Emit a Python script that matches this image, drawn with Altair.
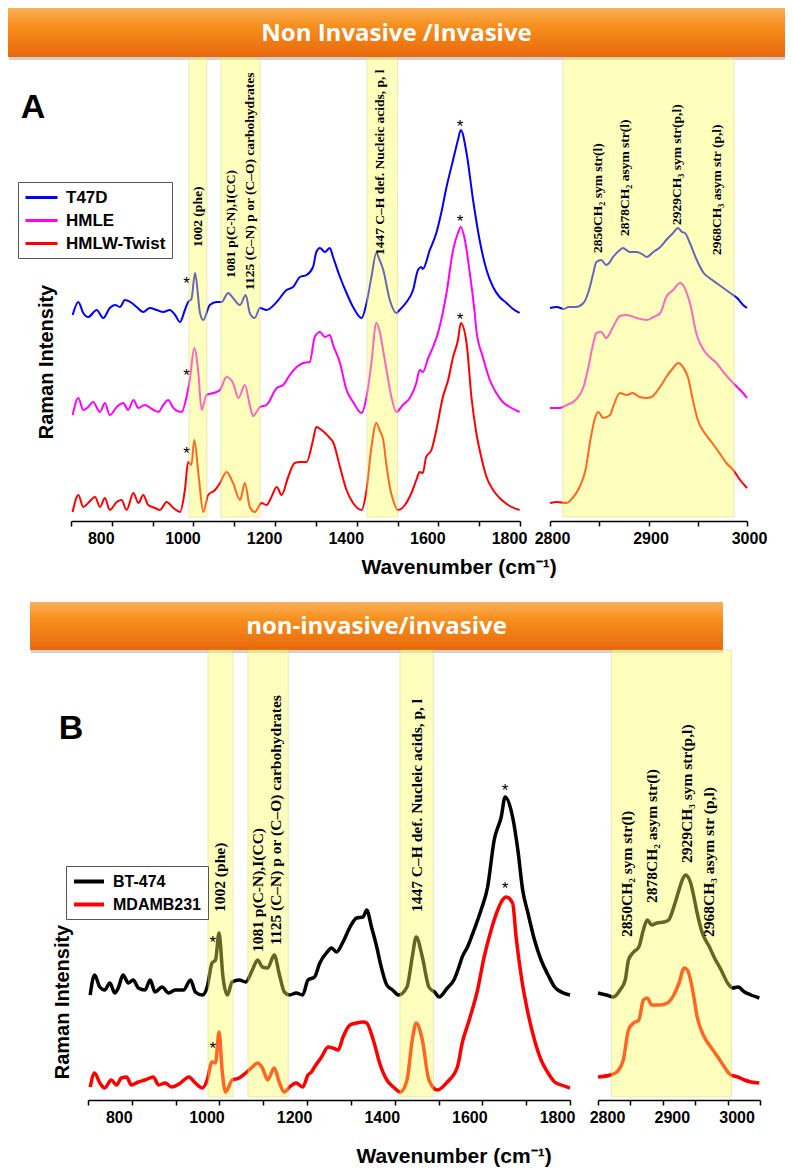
import altair as alt
import pandas as pd

# ---------------- Panel A : spectra (wavenumber cm-1, intensity a.u.) ----------------
A_SERIES = ["T47D", "HMLE", "HMLW-Twist"]
A_COLORS = ["#0000FF", "#FF00FF", "#FF0000"]

A_T47D_WN = [704, 718, 730, 742, 763, 779, 795, 808, 820, 832, 849, 861, 877, 893, 910, 926, 942, 955, 967, 979,
             987, 995, 1004, 1016, 1024, 1040, 1057, 1069, 1085, 1097, 1114, 1128, 1138, 1150, 1163, 1179, 1204,
             1228, 1244, 1261, 1277, 1293, 1301, 1310, 1322, 1334, 1342, 1359, 1375, 1391, 1412, 1424, 1436,
             1448, 1456, 1465, 1481, 1497, 1505, 1522, 1538, 1550, 1558, 1562, 1579, 1595, 1607, 1620, 1636,
             1648, 1655, 1669, 1685, 1701, 1718, 1734, 1750, 1767, 1783, 1799]
A_T47D_INT = [206, 219, 208, 204, 211, 203, 213, 216, 214, 221, 218, 214, 209, 213, 211, 209, 211, 206, 199, 211,
              219, 222, 248, 208, 201, 216, 219, 219, 228, 223, 216, 226, 208, 203, 213, 211, 219,
              231, 234, 244, 246, 254, 269, 273, 269, 273, 264, 244, 228, 214, 203, 218, 244,
              268, 261, 251, 221, 208, 211, 219, 231, 251, 254, 252, 271, 288, 308, 334, 361,
              381, 391, 368, 321, 281, 251, 234, 224, 218, 212, 208]

A_HMLE_WN = [704, 718, 730, 742, 754, 771, 783, 795, 812, 828, 840, 853, 865, 881, 902, 914, 926, 938, 951, 971,
             983, 991, 1002, 1012, 1020, 1032, 1049, 1065, 1081, 1097, 1110, 1126, 1138, 1146, 1163, 1179, 1204,
             1220, 1236, 1253, 1269, 1285, 1297, 1310, 1322, 1334, 1342, 1359, 1375, 1391, 1412, 1424, 1436,
             1448, 1456, 1465, 1473, 1485, 1497, 1513, 1530, 1546, 1554, 1562, 1575, 1587, 1599, 1620, 1636,
             1648, 1655, 1665, 1677, 1689, 1693, 1709, 1726, 1742, 1758, 1775, 1799]
A_HMLE_INT = [106, 123, 111, 114, 119, 109, 118, 106, 114, 118, 111, 121, 113, 116, 111, 109, 116, 121, 113, 109,
              124, 141, 173, 148, 111, 126, 128, 131, 144, 138, 123, 136, 116, 105, 114, 116, 133,
              136, 146, 154, 158, 159, 184, 189, 184, 186, 176, 158, 131, 119, 108, 124, 158,
              198, 190, 170, 151, 124, 109, 116, 123, 138, 151, 149, 163, 174, 188, 228, 271,
              288, 294, 281, 248, 208, 191, 164, 141, 128, 119, 114, 109]

A_TWIST_WN = [704, 718, 730, 742, 759, 771, 783, 795, 812, 824, 836, 853, 865, 877, 889, 906, 918, 934, 951, 967,
              979, 987, 995, 1002, 1013, 1024, 1036, 1053, 1065, 1081, 1097, 1114, 1126, 1138, 1150, 1167, 1179,
              1191, 1204, 1216, 1232, 1248, 1261, 1277, 1293, 1301, 1314, 1334, 1342, 1359, 1375, 1391, 1412,
              1424, 1436, 1448, 1456, 1465, 1473, 1481, 1489, 1501, 1518, 1534, 1546, 1554, 1562, 1570, 1583,
              1595, 1611, 1624, 1636, 1648, 1655, 1669, 1681, 1693, 1705, 1718, 1734, 1750, 1771, 1799]
A_TWIST_INT = [9, 26, 14, 18, 24, 14, 23, 11, 19, 21, 11, 28, 18, 26, 16, 13, 11, 19, 13, 9,
               31, 59, 56, 81, 44, 9, 26, 31, 38, 49, 38, 21, 38, 14, 9, 18, 16,
               24, 34, 26, 44, 58, 59, 59, 81, 94, 91, 83, 79, 54, 31, 18, 11,
               31, 74, 98, 91, 81, 55, 34, 21, 11, 16, 28, 41, 49, 48, 64, 71,
               91, 124, 141, 164, 181, 198, 178, 124, 88, 64, 44, 31, 23, 16, 11]

A_T47D_HI_WN = [2800, 2807, 2814, 2819, 2826, 2834, 2839, 2844, 2847, 2852, 2857, 2860, 2864, 2871, 2874, 2881,
                2888, 2895, 2898, 2905, 2912, 2918, 2925, 2930, 2934, 2937, 2942, 2949, 2956, 2962, 2969, 2976,
                2983, 2990, 2996, 3000]
A_T47D_HI_INT = [213, 214, 212, 214, 214, 218, 229, 248, 259, 261, 256, 258, 264, 271, 273, 269,
                 269, 266, 264, 269, 274, 281, 288, 293, 289, 288, 278, 261, 248, 243, 238, 233,
                 228, 223, 216, 213]

A_HMLE_HI_WN = [2800, 2810, 2817, 2826, 2834, 2839, 2844, 2847, 2852, 2857, 2864, 2871, 2878, 2888, 2898, 2905,
                2912, 2918, 2925, 2932, 2935, 2942, 2949, 2956, 2962, 2969, 2976, 2983, 2990, 2996, 3000]
A_HMLE_HI_INT = [113, 113, 116, 121, 134, 154, 178, 188, 189, 183, 194, 205, 206, 203, 201, 204,
                 208, 224, 231, 238, 236, 218, 186, 171, 164, 158, 149, 141, 134, 128, 123]

A_TWIST_HI_WN = [2800, 2807, 2817, 2823, 2830, 2836, 2841, 2846, 2849, 2854, 2861, 2864, 2871, 2878, 2884, 2891,
                 2898, 2903, 2908, 2913, 2918, 2925, 2930, 2935, 2940, 2945, 2950, 2957, 2964, 2972, 2979, 2986,
                 2993, 3000]
A_TWIST_HI_INT = [18, 19, 18, 23, 34, 51, 81, 104, 109, 103, 106, 114, 128, 126, 128, 124,
                  123, 124, 129, 136, 144, 153, 158, 154, 144, 121, 101, 88, 79, 68, 58, 51,
                  41, 33]

# ---------------- Panel B ----------------
B_SERIES = ["BT-474", "MDAMB231"]
B_COLORS = ["#000000", "#FF0000"]

B_BT_WN = [705, 715, 727, 738, 750, 761, 769, 780, 792, 803, 815, 830, 842, 853, 869, 884, 899, 918, 934, 945,
           961, 972, 983, 991, 999, 1008, 1018, 1029, 1045, 1060, 1075, 1087, 1098, 1110, 1125, 1137, 1148,
           1160, 1175, 1190, 1202, 1217, 1229, 1244, 1256, 1267, 1282, 1298, 1313, 1328, 1336, 1347, 1359,
           1367, 1382, 1395, 1409, 1428, 1440, 1449, 1463, 1478, 1493, 1501, 1520, 1535, 1548, 1554, 1566,
           1581, 1597, 1612, 1627, 1643, 1652, 1669, 1681, 1692, 1704, 1719, 1734, 1750, 1765, 1780, 1800]
B_BT_INT = [105, 125, 113, 110, 117, 107, 112, 125, 117, 120, 112, 110, 120, 108, 113, 107, 110, 110, 120, 108,
            105, 113, 137, 140, 167, 123, 105, 118, 120, 118, 130, 140, 133, 132, 145, 125, 108,
            105, 107, 105, 120, 123, 137, 147, 152, 148, 158, 173, 182, 183, 190, 173, 153,
            137, 115, 110, 105, 113, 143, 163, 143, 113, 107, 103, 112, 120, 135, 143, 153,
            170, 190, 213, 260, 283, 303, 283, 250, 210, 187, 160, 140, 125, 113, 108, 105]

B_MDA_WN = [705, 715, 727, 738, 753, 765, 776, 788, 799, 815, 830, 849, 861, 876, 891, 911, 930, 945, 961, 972,
            983, 991, 999, 1006, 1014, 1029, 1045, 1060, 1075, 1087, 1098, 1110, 1125, 1137, 1148, 1160, 1175,
            1190, 1202, 1210, 1217, 1233, 1248, 1259, 1271, 1282, 1298, 1313, 1328, 1336, 1351, 1367, 1382,
            1397, 1413, 1428, 1440, 1449, 1463, 1478, 1497, 1520, 1543, 1554, 1570, 1589, 1604, 1620, 1635,
            1646, 1654, 1669, 1677, 1689, 1704, 1719, 1734, 1750, 1765, 1780, 1800]
B_MDA_INT = [13, 27, 17, 12, 20, 15, 22, 23, 15, 18, 20, 23, 15, 17, 13, 17, 23, 17, 12, 20,
             38, 37, 68, 30, 8, 20, 22, 27, 33, 37, 32, 20, 32, 17, 8, 13, 17,
             13, 25, 28, 33, 43, 53, 52, 50, 63, 75, 77, 78, 77, 60, 35, 20,
             13, 8, 20, 60, 77, 60, 20, 10, 18, 33, 57, 80, 110, 143, 170, 190,
             200, 203, 197, 163, 123, 87, 60, 40, 27, 18, 15, 12]

B_BT_HI_WN = [2800, 2813, 2824, 2834, 2842, 2847, 2855, 2863, 2870, 2876, 2883, 2891, 2902, 2909, 2917, 2925,
              2930, 2935, 2943, 2948, 2953, 2961, 2972, 2979, 2990, 3000, 3008, 3016, 3026, 3036, 3049]
B_BT_HI_INT = [107, 105, 103, 110, 120, 140, 148, 153, 170, 180, 175, 177, 178, 180, 193, 210,
               220, 225, 217, 203, 187, 167, 153, 143, 130, 117, 112, 113, 108, 105, 102]

B_MDA_HI_WN = [2800, 2819, 2829, 2839, 2847, 2855, 2863, 2870, 2876, 2883, 2896, 2907, 2917, 2925, 2933, 2938,
               2946, 2953, 2964, 2974, 2985, 2995, 3005, 3016, 3026, 3036, 3049]
B_MDA_HI_INT = [23, 25, 28, 40, 70, 77, 80, 100, 102, 95, 95, 97, 105, 117, 132, 130,
                110, 83, 63, 53, 43, 33, 25, 23, 20, 18, 17]

# ---------------- highlighted bands (cm-1) ----------------
A_BANDS_LO = [[989, 1033], [1067, 1163], [1425, 1500]]
A_BANDS_HI = [[2813, 2987]]
B_BANDS_LO = [[974, 1031], [1065, 1157], [1412, 1488]]
B_BANDS_HI = [[2821, 3006]]

# ---------------- peak annotations ----------------
ANN_TEXT = ["1002 (phe)", "1081 p(C-N),I(CC)", "1125 (C\u2013N) p or (C\u2013O)  carbohydrates",
            "1447 C\u2013H def. Nucleic acids, p, l",
            "2850CH\u2082 sym str(l)", "2878CH\u2082 asym str(l)", "2929CH\u2083 sym str(p,l)",
            "2968CH\u2083 asym str (p,l)"]
ANN_A_X = [1011, 1092, 1138, 1456, 2849, 2876, 2929, 2970]
ANN_A_Y = [274, 243, 231, 266, 268, 285, 296, 266]
ANN_B_X = [1001, 1088, 1129, 1451, 2845, 2883, 2937, 2972]
ANN_B_Y = [188, 148, 155, 188, 163, 197, 237, 163]

STAR_A_X = [983, 983, 983, 1653, 1653, 1653]
STAR_A_Y = [241, 149, 71, 398, 303, 205]
STAR_B_X = [985, 985, 1652, 1652]
STAR_B_Y = [161, 55, 313, 215]

LO_TICKS = list(range(700, 1801, 100))
HI_TICKS_A = list(range(2800, 3001, 50))
HI_TICKS_B = list(range(2800, 3051, 50))

W, H = 777, 1159


def series_df(pairs):
    rows = []
    for name, wn, val in pairs:
        for a, b in zip(wn, val):
            rows.append({"series": name, "wn": a, "val": b})
    return pd.DataFrame(rows)


def axis(values, step, offset, label_shift):
    return alt.Axis(orient="bottom", offset=offset, values=values, title=None, grid=False,
                    labelExpr="datum.value %% %d == 0 ? datum.label : ''" % step,
                    format="d", domainColor="black", domainWidth=1.5, tickColor="black",
                    tickWidth=1.5, tickSize=5, labelFont="Liberation Sans", labelFontWeight="bold",
                    labelFontSize=16, labelColor="black", labelPadding=4, labelFlush=False,
                    labelOverlap=False, labelOffset=label_shift)


def panel_part(lines, bands, ann, stars, xdom, xrange, ydom, yrange, ax, colors, series,
               lw, legend, ann_size):
    xs = alt.Scale(domain=xdom, range=xrange, nice=False, zero=False)
    ys = alt.Scale(domain=ydom, range=yrange, nice=False, zero=False)

    def X(f):
        return alt.X(f, type="quantitative", scale=xs, axis=ax, title=None)

    def Y(f):
        return alt.Y(f, type="quantitative", scale=ys, axis=None, title=None)

    ln = alt.Chart(lines).mark_line(strokeWidth=lw, strokeJoin="round",
                                    interpolate="monotone").encode(
        x=X("wn"), y=Y("val"),
        color=alt.Color("series:N", scale=alt.Scale(domain=series, range=colors), legend=legend),
    )
    bd = alt.Chart(bands).mark_rect(fill="#FFFF5A", fillOpacity=0.4, stroke="#C8C878",
                                    strokeWidth=0.8, strokeOpacity=0.5).encode(
        x=X("x1"), x2=alt.X2("x2"), y=Y("y1"), y2=alt.Y2("y2"))
    layers = [ln, bd]
    if ann is not None:
        layers.append(alt.Chart(ann).mark_text(angle=270, align="left", baseline="middle",
                                               font="Liberation Serif", fontWeight="bold",
                                               fontSize=ann_size, color="black").encode(
            x=X("x"), y=Y("y"), text="label:N"))
    if stars is not None:
        layers.append(alt.Chart(stars).mark_text(text="*", font="Liberation Sans", fontSize=17,
                                                 baseline="alphabetic", dy=9, color="black").encode(
            x=X("x"), y=Y("y")))
    return alt.layer(*layers)


def bands_df(bands, ylo, yhi):
    return pd.DataFrame({"x1": [b[0] for b in bands], "x2": [b[1] for b in bands],
                         "y1": [ylo] * len(bands), "y2": [yhi] * len(bands)})


def legend(x, y, unit, font_size, stroke_w):
    # horizontal line symbol: path spans 4 units of (sqrt(size)/2)
    return alt.Legend(orient="none", legendX=x, legendY=y, title=None,
                      symbolType="M-1,0H3", symbolStrokeWidth=stroke_w, symbolSize=unit * unit,
                      symbolFillColor="transparent",
                      labelFont="Liberation Sans", labelFontWeight="bold", labelFontSize=font_size,
                      labelColor="black", strokeColor="#555555", fillColor="white",
                      padding=6, rowPadding=5, labelOffset=int(unit * 1.2) + 4, labelLimit=300)


# ---------- Panel A ----------
A_lo = series_df([("T47D", A_T47D_WN, A_T47D_INT), ("HMLE", A_HMLE_WN, A_HMLE_INT),
                  ("HMLW-Twist", A_TWIST_WN, A_TWIST_INT)])
A_hi = series_df([("T47D", A_T47D_HI_WN, A_T47D_HI_INT), ("HMLE", A_HMLE_HI_WN, A_HMLE_HI_INT),
                  ("HMLW-Twist", A_TWIST_HI_WN, A_TWIST_HI_INT)])
annA = pd.DataFrame({"x": ANN_A_X, "y": ANN_A_Y, "label": ANN_TEXT})
starsA = pd.DataFrame({"x": STAR_A_X, "y": STAR_A_Y})

A_y_dom, A_y_rng = [0, 461], [513, 52]
A_left = panel_part(A_lo, bands_df(A_BANDS_LO, 4, 463), annA[annA.x < 2000], starsA,
                    [700, 1800], [63, 512], A_y_dom, A_y_rng, axis(LO_TICKS, 200, 513 - H, -11),
                    A_COLORS, A_SERIES, 2, legend(10, 174, 16, 17, 3), 13.5)
A_right = panel_part(A_hi, bands_df(A_BANDS_HI, 4, 463), annA[annA.x > 2000], None,
                     [2800, 3000], [542, 739], A_y_dom, A_y_rng, axis(HI_TICKS_A, 100, 513 - H, 2),
                     A_COLORS, A_SERIES, 2, None, 13.5)
panelA = alt.layer(A_left, A_right).resolve_scale(x="independent")

# ---------- Panel B ----------
B_lo = series_df([("BT-474", B_BT_WN, B_BT_INT), ("MDAMB231", B_MDA_WN, B_MDA_INT)])
B_hi = series_df([("BT-474", B_BT_HI_WN, B_BT_HI_INT), ("MDAMB231", B_MDA_HI_WN, B_MDA_HI_INT)])
annB = pd.DataFrame({"x": ANN_B_X, "y": ANN_B_Y, "label": ANN_TEXT})
starsB = pd.DataFrame({"x": STAR_B_X, "y": STAR_B_Y})

B_y_dom, B_y_rng = [0, 450], [1092, 642]
B_left = panel_part(B_lo, bands_df(B_BANDS_LO, 3, 450), annB[annB.x < 2000], starsB,
                    [700, 1800], [80, 562], B_y_dom, B_y_rng, axis(LO_TICKS, 200, 1092 - H, -13),
                    B_COLORS, B_SERIES, 3.5, legend(58, 858, 15, 16, 4), 15.5)
B_right = panel_part(B_hi, bands_df(B_BANDS_HI, 3, 450), annB[annB.x > 2000], None,
                     [2800, 3050], [590, 752], B_y_dom, B_y_rng, axis(HI_TICKS_B, 100, 1092 - H, 9),
                     B_COLORS, B_SERIES, 3.5, None, 15.5)
panelB = alt.layer(B_left, B_right).resolve_scale(x="independent")

# ---------- decorations: banners, panel letters, titles ----------
one = pd.DataFrame({"k": [0]})
grad = alt.LinearGradient(gradient="linear", x1=0, x2=0, y1=0, y2=1,
                          stops=[alt.GradientStop(offset=0, color="#FBB05A"),
                                 alt.GradientStop(offset=0.35, color="#F7901E"),
                                 alt.GradientStop(offset=1, color="#E8680C")])


def banner(x0, x1, y0, y1, text):
    sh = alt.Chart(one).mark_rect(color="#D9CFC8").encode(
        x=alt.value(x0 + 1), x2=alt.value(x1), y=alt.value(y1), y2=alt.value(y1 + 3))
    r = alt.Chart(one).mark_rect(color=grad).encode(
        x=alt.value(x0), x2=alt.value(x1), y=alt.value(y0), y2=alt.value(y1))
    t = alt.Chart(one).mark_text(text=text, font="Open Sans", fontWeight="bold", fontSize=24,
                                 color="white", baseline="middle", align="center").encode(
        x=alt.value((x0 + x1) / 2), y=alt.value((y0 + y1) / 2 + 1))
    return [sh, r, t]


def label(text, x, y, size, angle=0, font="Liberation Sans"):
    return alt.Chart(one).mark_text(text=text, font=font, fontWeight="bold", fontSize=size,
                                    color="black", angle=angle, baseline="middle",
                                    align="center").encode(x=alt.value(x), y=alt.value(y))


decor = (banner(0, 777, 0, 49, "Non Invasive /Invasive")
         + banner(22, 715, 594, 642, "non-invasive/invasive")
         + [label("A", 25, 100, 34), label("B", 63, 721, 34),
            label("Raman Intensity", 39, 354, 20, 270), label("Raman Intensity", 55, 994, 20, 270),
            label("Wavenumber (cm\u207B\u00B9)", 451, 560, 21),
            label("Wavenumber (cm\u207B\u00B9)", 446, 1149, 21)])

chart = alt.layer(*decor, panelA, panelB).resolve_scale(
    x="independent", y="independent", color="independent"
).properties(
    width=W, height=H, autosize=alt.AutoSizeParams(type="none"), padding=0,
    background="white"
).configure_view(stroke=None).configure_axis(grid=False)

chart.save("out.html", embed_options={"renderer": "svg", "actions": False})
